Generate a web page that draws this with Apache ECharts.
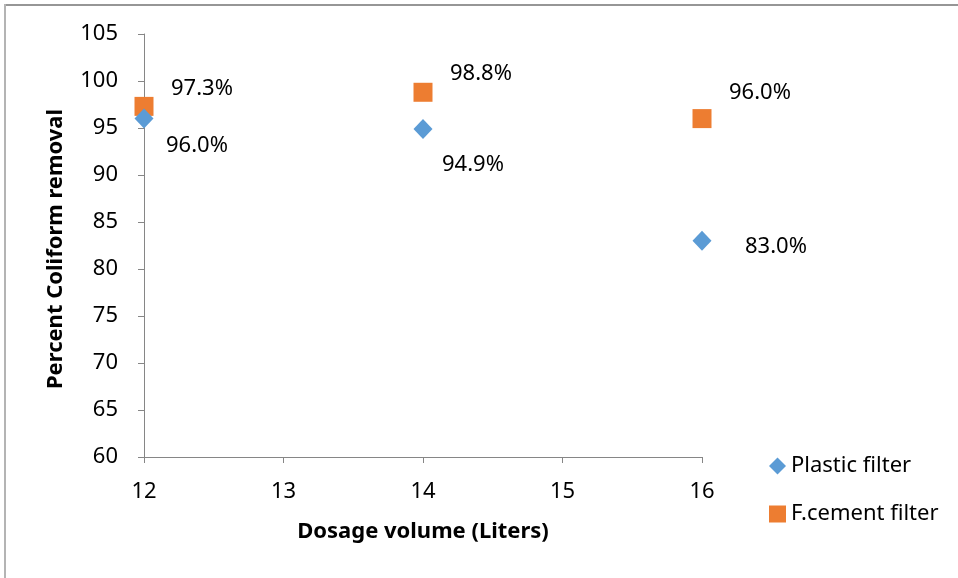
<!DOCTYPE html>
<html>
<head>
<meta charset="utf-8">
<script src="https://cdn.jsdelivr.net/npm/echarts@6/dist/echarts.min.js"></script>
<style>
  html, body { margin: 0; padding: 0; background: #fff; }
  #chart { width: 958px; height: 578px; }
</style>
</head>
<body>
<div id="chart"></div>
<script>
// Dosage volume (litres) on the x axis
const dosage = [12, 14, 16];
// Percent coliform removal per filter type
const plasticFilter = [96.0, 94.9, 83.0];
const cementFilter = [97.3, 98.8, 96.0];
const seriesNames = ['Plastic filter', 'F.cement filter'];

// Per-point label offsets (px from marker centre), layout only
const plasticLabelOffsets = [[53, 27], [50, 36], [74, 6]];
const cementLabelOffsets = [[58, -18], [58, -19], [58, -26]];

const FONT = 'Noto Sans';
const BLUE = '#5B9BD5';
const ORANGE = '#ED7D31';
const AXIS = '#868686';

function points(values, offsets) {
  return values.map((v, i) => ({
    value: [dosage[i], v],
    label: { offset: offsets[i] }
  }));
}

const chart = echarts.init(document.getElementById('chart'), null, { renderer: 'canvas' });

const labelStyle = {
  show: true,
  position: 'inside',
  align: 'center',
  verticalAlign: 'middle',
  color: '#000',
  fontFamily: FONT,
  fontSize: 22,
  formatter: p => p.value[1].toFixed(1) + '%'
};

chart.setOption({
  animation: false,
  backgroundColor: '#fff',
  grid: { left: 144, right: 256, top: 34, bottom: 121, containLabel: false },
  xAxis: {
    type: 'value',
    min: 12, max: 16, interval: 1,
    splitLine: { show: false },
    axisLine: { show: true, onZero: false, lineStyle: { color: AXIS, width: 1 } },
    axisTick: { show: true, length: 6, lineStyle: { color: AXIS } },
    axisLabel: { margin: 24, color: '#000', fontFamily: FONT, fontSize: 22 }
  },
  yAxis: {
    type: 'value',
    min: 60, max: 105, interval: 5,
    splitLine: { show: false },
    axisLine: { show: true, onZero: false, lineStyle: { color: AXIS, width: 1 } },
    axisTick: { show: true, length: 6, lineStyle: { color: AXIS } },
    axisLabel: { margin: 26, color: '#000', fontFamily: FONT, fontSize: 22 }
  },
  legend: {
    orient: 'vertical',
    left: 764,
    top: 450,
    itemWidth: 17,
    itemHeight: 17,
    itemGap: 26,
    itemStyle: { opacity: 1 },
    textStyle: { color: '#000', fontFamily: FONT, fontSize: 22, lineHeight: 22, padding: [0, 0, 0, 0] },
    data: [
      { name: seriesNames[0], icon: 'diamond' },
      { name: seriesNames[1], icon: 'rect' }
    ]
  },
  series: [
    {
      name: seriesNames[1],
      type: 'scatter',
      symbol: 'rect',
      symbolSize: 19,
      itemStyle: { color: ORANGE, opacity: 1 },
      label: labelStyle,
      data: points(cementFilter, cementLabelOffsets),
      z: 2
    },
    {
      name: seriesNames[0],
      type: 'scatter',
      symbol: 'diamond',
      symbolSize: [19, 20],
      itemStyle: { color: BLUE, opacity: 1 },
      label: labelStyle,
      data: points(plasticFilter, plasticLabelOffsets),
      z: 3
    }
  ],
  graphic: [
    // chart frame (top and left edges)
    { type: 'line', shape: { x1: 4, y1: 5, x2: 958, y2: 5 }, style: { stroke: '#969696', lineWidth: 2 } },
    { type: 'line', shape: { x1: 5, y1: 4, x2: 5, y2: 578 }, style: { stroke: '#b4b4b4', lineWidth: 2 } },
    // axis titles
    {
      type: 'text',
      x: 423, y: 532,
      style: {
        text: 'Dosage volume (Liters)',
        fontFamily: FONT, fontSize: 22, fontWeight: 'bold', fill: '#000',
        align: 'center', verticalAlign: 'middle'
      }
    },
    {
      type: 'text',
      x: 56, y: 249,
      rotation: Math.PI / 2,
      style: {
        text: 'Percent Coliform removal',
        fontFamily: FONT, fontSize: 22, fontWeight: 'bold', fill: '#000',
        align: 'center', verticalAlign: 'middle'
      }
    }
  ]
});
</script>
</body>
</html>
